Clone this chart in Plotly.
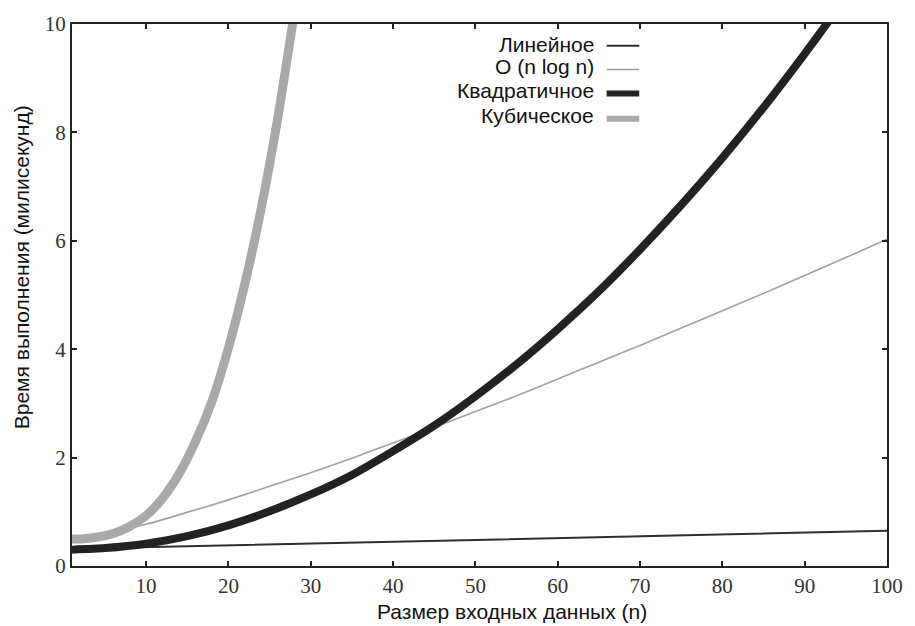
import plotly.graph_objects as go

# ---- data ----
n_linear = [1, 50, 100]
linear = [0.32, 0.48, 0.65]

n_nlogn = [1, 5, 10, 15, 20, 25, 30, 35, 40, 45, 50, 55, 60, 65, 70, 75, 80, 85, 90, 95, 100]
nlogn = [0.50, 0.60, 0.77, 0.99, 1.22, 1.47, 1.72, 1.99, 2.27, 2.56, 2.85, 3.14, 3.45, 3.76,
         4.07, 4.39, 4.71, 5.03, 5.36, 5.69, 6.03]

n_quad = [1, 5, 10, 15, 20, 25, 30, 35, 40, 45, 50, 55, 60, 65, 70, 75, 80, 85, 90, 93]
quad = [0.30, 0.33, 0.41, 0.55, 0.75, 1.01, 1.32, 1.68, 2.12, 2.59, 3.13, 3.72, 4.37, 5.07,
        5.84, 6.66, 7.53, 8.46, 9.45, 10.07]

n_cubic = [1, 2, 4, 6, 8, 10, 12, 14, 16, 18, 20, 22, 24, 26, 28]
cubic = [0.50, 0.50, 0.53, 0.60, 0.73, 0.93, 1.25, 1.70, 2.30, 3.04, 4.02, 5.21, 6.61, 8.27, 10.2]

names = ["Линейное", "O (n log n)", "Квадратичное", "Кубическое"]
colors = ["#2e2e2e", "#a0a0a0", "#222222", "#a9a9a9"]
widths = [2, 1.6, 8, 9]

x_ticks = [10, 20, 30, 40, 50, 60, 70, 80, 90, 100]
y_ticks = [0, 2, 4, 6, 8, 10]

x_title = "Размер входных данных (n)"
y_title = "Время выполнения (милисекунд)"

fig = go.Figure()
series = [(n_linear, linear), (n_nlogn, nlogn), (n_quad, quad), (n_cubic, cubic)]
for (xs, ys), nm, c, w in zip(series, names, colors, widths):
    fig.add_trace(go.Scatter(x=xs, y=ys, mode="lines", name=nm,
                             line=dict(color=c, width=w, shape="spline", smoothing=0.6),
                             showlegend=False))

sans = "Liberation Sans, Arial, sans-serif"

# custom legend (text left, sample right, as in the reference)
leg_y_text = [0.962, 0.921, 0.877, 0.832]
leg_y_line = [0.960, 0.916, 0.872, 0.825]
leg_w = [2, 1.6, 6, 6]
for nm, c, w, yt, yl in zip(names, colors, leg_w, leg_y_text, leg_y_line):
    fig.add_annotation(x=0.643, y=yt, xref="paper", yref="paper", text=nm, showarrow=False,
                       xanchor="right", yanchor="middle",
                       font=dict(family=sans, size=21, color="#111111"))
    fig.add_shape(type="line", xref="paper", yref="paper", x0=0.656, x1=0.696, y0=yl, y1=yl,
                  line=dict(color=c, width=w))

# axis titles (placed as in the reference)
fig.add_annotation(x=0.54, y=-0.084, xref="paper", yref="paper", text=x_title, showarrow=False,
                   xanchor="center", yanchor="middle", font=dict(family=sans, size=21, color="#111111"))
fig.add_annotation(x=-0.062, y=0.552, xref="paper", yref="paper", text=y_title, showarrow=False,
                   textangle=-90, xanchor="center", yanchor="middle",
                   font=dict(family=sans, size=21, color="#111111"))

axis_common = dict(showline=True, linecolor="#222222", linewidth=2, mirror="allticks",
                   ticks="inside", ticklen=5, tickwidth=2, tickcolor="#222222",
                   showgrid=False, zeroline=False,
                   tickfont=dict(family="Liberation Serif, Times New Roman, serif", size=21, color="#333333"))

fig.update_xaxes(range=[1, 100], tickvals=x_ticks, **axis_common)
fig.update_yaxes(range=[0, 10], tickvals=y_ticks, **axis_common)

fig.update_layout(width=915, height=626, margin=dict(l=72, r=27, t=21, b=60),
                  plot_bgcolor="white", paper_bgcolor="white")

fig.write_html("out.html")
